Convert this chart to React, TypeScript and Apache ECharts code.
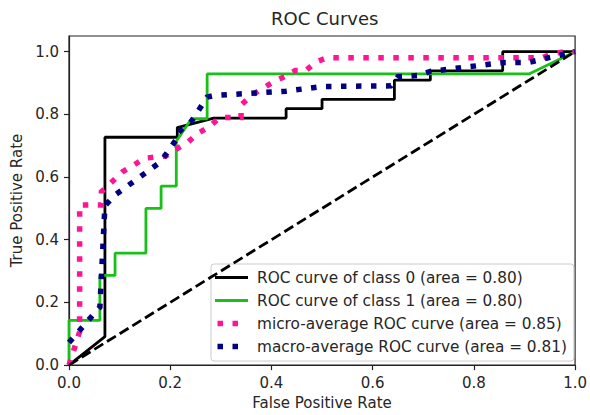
import React, { useEffect, useRef } from "react";
import * as echarts from "echarts";

const chartTitle = "ROC Curves";
const xAxisName = "False Positive Rate";
const yAxisName = "True Positive Rate";
const tickValues = [0, 0.2, 0.4, 0.6, 0.8, 1.0];

const seriesNames = [
  "ROC curve of class 0 (area = 0.80)",
  "ROC curve of class 1 (area = 0.80)",
  "micro-average ROC curve (area = 0.85)",
  "macro-average ROC curve (area = 0.81)",
];

const class0Fpr = [0, 0.071, 0.071, 0.214, 0.214, 0.286, 0.429, 0.429, 0.5, 0.5, 0.643, 0.643, 0.714, 0.714, 0.857, 0.857, 1.0];
const class0Tpr = [0, 0.091, 0.727, 0.727, 0.758, 0.788, 0.788, 0.818, 0.818, 0.848, 0.848, 0.909, 0.909, 0.939, 0.939, 1.0, 1.0];

const class1Fpr = [0, 0, 0.061, 0.061, 0.091, 0.091, 0.152, 0.152, 0.182, 0.182, 0.212, 0.212, 0.242, 0.273, 0.273, 0.909, 1.0];
const class1Tpr = [0, 0.143, 0.143, 0.286, 0.286, 0.357, 0.357, 0.5, 0.5, 0.571, 0.571, 0.714, 0.786, 0.786, 0.929, 0.929, 1.0];

const microFpr = [0, 0.021, 0.021, 0.064, 0.064, 0.085, 0.106, 0.128, 0.149, 0.191, 0.213, 0.234, 0.255, 0.277, 0.298, 0.34, 0.34, 0.362, 0.383, 0.404, 0.426, 0.447, 0.468, 0.489, 0.511, 0.936, 0.957, 0.979, 1.0];
const microTpr = [0, 0.106, 0.511, 0.511, 0.553, 0.585, 0.617, 0.638, 0.66, 0.667, 0.69, 0.71, 0.74, 0.76, 0.79, 0.79, 0.83, 0.862, 0.883, 0.904, 0.92, 0.94, 0.94, 0.968, 0.981, 0.981, 0.994, 1.0, 1.0];

const macroFpr = [0, 0.061, 0.071, 0.091, 0.152, 0.182, 0.212, 0.214, 0.242, 0.273, 0.286, 0.429, 0.5, 0.636, 0.65, 0.69, 0.714, 0.857, 0.909, 1.0];
const macroTpr = [0.072, 0.185, 0.508, 0.543, 0.614, 0.65, 0.72, 0.74, 0.778, 0.855, 0.86, 0.874, 0.889, 0.891, 0.92, 0.924, 0.937, 0.965, 0.966, 1.0];

const chanceFpr = [0, 1];
const chanceTpr = [0, 1];

const zip = (xs: number[], ys: number[]) => xs.map((x, i) => [x, ys[i]]);

const FONT = "DejaVu Sans";
const TEXT = "#262626";
const colors = ["#000000", "#18c018", "#ff1493", "#000080"];

const corners = "M0 0h0.01v0.01h-0.01z M36.99 13.99h0.01v0.01h-0.01z ";
const solidIcon = "path://" + corners + "M0 5.6h33v2.8h-33z";
const dotIcon = "path://" + corners + "M2.5 4.25h5.5v5.5h-5.5z M17.5 4.25h5.5v5.5h-5.5z";

export default function App() {
  const ref = useRef<HTMLDivElement>(null);
  useEffect(() => {
    if (!ref.current) return;
    const chart = echarts.init(ref.current, null, { renderer: "svg" });
    const solid = { width: 2.8, type: "solid" as const, cap: "butt" as const };
    const dotted = { width: 5.5, type: [5.5, 9.5], cap: "butt" as const, join: "miter" as const };
    const mk = (name: string, xs: number[], ys: number[], color: string, ls: any, z: number) => ({
      name,
      type: "line",
      data: zip(xs, ys),
      symbol: "none",
      showSymbol: false,
      silent: true,
      z,
      itemStyle: { color },
      lineStyle: { ...ls, color },
    });
    chart.setOption({
      animation: false,
      backgroundColor: "#ffffff",
      title: {
        text: chartTitle,
        left: 271,
        top: 9,
        padding: 0,
        textStyle: { fontFamily: FONT, fontSize: 18, fontWeight: "normal", color: TEXT },
      },
      grid: {
        left: 69,
        right: 10,
        top: 36,
        bottom: 47,
        show: true,
        borderColor: "#222",
        borderWidth: 1.2,
        backgroundColor: "transparent",
      },
      legend: {
        orient: "vertical",
        left: 211,
        top: 264,
        padding: [6, 7, 7, 4],
        itemWidth: 37,
        itemHeight: 14,
        itemGap: 8,
        backgroundColor: "rgba(255,255,255,0.8)",
        borderColor: "#cccccc",
        borderWidth: 1,
        borderRadius: 3,
        selectedMode: false,
        itemStyle: { borderWidth: 0 },
        textStyle: { fontFamily: FONT, fontSize: 15.3, color: TEXT, lineHeight: 14 },
        data: seriesNames.map((n, i) => ({
          name: n,
          icon: i < 2 ? solidIcon : dotIcon,
          itemStyle: { color: colors[i], borderWidth: 0 },
        })),
      },
      xAxis: {
        type: "value",
        min: 0,
        max: 1,
        interval: 0.2,
        name: xAxisName,
        nameLocation: "middle",
        nameGap: 28,
        nameTextStyle: { fontFamily: FONT, fontSize: 15, color: TEXT },
        axisLine: { show: true, lineStyle: { color: "#222", width: 1.2 } },
        axisTick: { show: true, length: 5, lineStyle: { color: "#222", width: 1.2 }, customValues: tickValues },
        axisLabel: {
          fontFamily: FONT,
          fontSize: 15,
          color: TEXT,
          margin: 10,
          customValues: tickValues,
          formatter: (v: number) => v.toFixed(1),
        },
        splitLine: { show: false },
      },
      yAxis: {
        type: "value",
        min: 0,
        max: 1.05,
        interval: 0.2,
        name: yAxisName,
        nameLocation: "middle",
        nameGap: 43,
        nameTextStyle: { fontFamily: FONT, fontSize: 15, color: TEXT },
        axisLine: { show: true, lineStyle: { color: "#222", width: 1.2 } },
        axisTick: { show: true, length: 5, lineStyle: { color: "#222", width: 1.2 }, customValues: tickValues },
        axisLabel: {
          fontFamily: FONT,
          fontSize: 15,
          color: TEXT,
          margin: 10,
          customValues: tickValues,
          formatter: (v: number) => (v > 1.001 ? "" : v.toFixed(1)),
        },
        splitLine: { show: false },
      },
      series: [
        mk(seriesNames[0], class0Fpr, class0Tpr, colors[0], solid, 2),
        mk(seriesNames[1], class1Fpr, class1Tpr, colors[1], solid, 3),
        mk(seriesNames[2], microFpr, microTpr, colors[2], dotted, 4),
        mk(seriesNames[3], macroFpr, macroTpr, colors[3], dotted, 5),
        {
          name: "chance",
          type: "line",
          data: zip(chanceFpr, chanceTpr),
          symbol: "none",
          silent: true,
          z: 6,
          itemStyle: { color: "#000" },
          lineStyle: { color: "#000", width: 2.8, type: [10.4, 4.5], cap: "butt" },
        },
      ],
    });
    return () => chart.dispose();
  }, []);
  return <div ref={ref} style={{ width: 590, height: 415, position: "absolute", left: 0, top: 0 }} />;
}
